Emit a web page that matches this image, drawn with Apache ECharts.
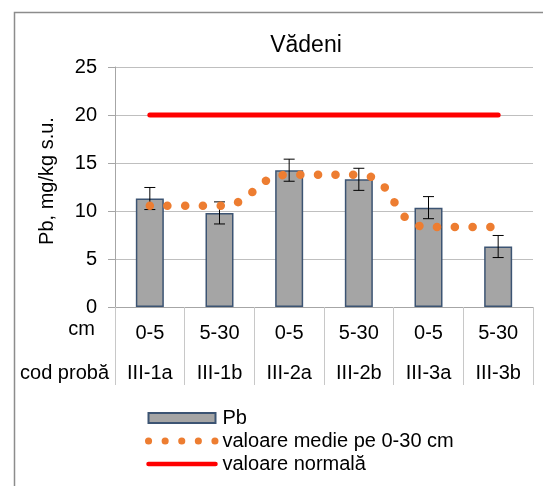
<!DOCTYPE html>
<html>
<head>
<meta charset="utf-8">
<script src="https://cdn.jsdelivr.net/npm/echarts@6/dist/echarts.min.js"></script>
<style>
  html, body { margin: 0; padding: 0; background: #fff; }
  #chart { width: 543px; height: 486px; }
</style>
</head>
<body>
<div id="chart"></div>
<script>
// Sample codes and sampling depths
const sampleCodes = ['III-1a', 'III-1b', 'III-2a', 'III-2b', 'III-3a', 'III-3b'];
const depths = ['0-5', '5-30', '0-5', '5-30', '0-5', '5-30'];

// Row headers of the category table under the x axis
const depthHeader = 'cm';
const codeHeader = 'cod probă';

// Pb content, mg/kg dry soil, with its uncertainty
const pbValues = [11.3, 9.8, 14.25, 13.3, 10.35, 6.3];
const pbError = [1.15, 1.15, 1.15, 1.15, 1.15, 1.15];

// Mean over the 0-30 cm profile for each sampling point (pairs of depths)
const meanValues = [10.55, 10.55, 13.775, 13.775, 8.325, 8.325];

// Normal value for Pb in soil
const normalValues = [20, 20, 20, 20, 20, 20];

// Y axis ticks
const yMin = 0, yMax = 25, yStep = 5;

const FONT = 'Liberation Sans, Arial, sans-serif';
const chart = echarts.init(document.getElementById('chart'), null, { renderer: 'canvas' });

const errorData = pbValues.map((v, i) => [i, v - pbError[i], v + pbError[i]]);
const headerStyle = { fontFamily: FONT, fontSize: 20, fill: '#000', align: 'right', verticalAlign: 'middle' };

chart.setOption({
  animation: false,
  backgroundColor: '#ffffff',
  textStyle: { fontFamily: FONT },
  title: {
    text: 'Vădeni',
    left: 301,
    top: 29,
    textAlign: 'center',
    textStyle: { fontFamily: FONT, fontSize: 23, fontWeight: 'normal', color: '#000' }
  },
  graphic: [
    {
      type: 'rect',
      shape: { x: 14.5, y: 12.5, width: 700, height: 700 },
      style: { fill: 'none', stroke: '#8c8c8c', lineWidth: 1.5 },
      silent: true,
      z: -10
    },
    { type: 'text', x: 95, y: 329, style: Object.assign({ text: depthHeader }, headerStyle), silent: true },
    { type: 'text', x: 109, y: 373, style: Object.assign({ text: codeHeader }, headerStyle), silent: true }
  ],
  legend: {
    orient: 'vertical',
    left: 145,
    top: 408,
    padding: 0,
    itemWidth: 67,
    itemHeight: 10,
    itemGap: 3,
    textStyle: { fontFamily: FONT, fontSize: 20, color: '#000', padding: [0, 0, 0, 2] },
    data: [
      { name: 'Pb', icon: 'rect' },
      { name: 'valoare medie pe 0-30 cm',
        itemStyle: { opacity: 0 },
        lineStyle: { width: 7, type: [0.1, 16.5], cap: 'round', color: '#ED7D31' } },
      { name: 'valoare normală',
        itemStyle: { opacity: 0 },
        lineStyle: { width: 4.5, cap: 'round', color: '#ff0000' } }
    ]
  },
  grid: { left: 115, right: 10, top: 67, bottom: 179 },
  xAxis: [
    {
      type: 'category',
      data: depths,
      position: 'bottom',
      boundaryGap: true,
      axisLine: { show: true, lineStyle: { color: '#a6a6a6', width: 1 } },
      axisTick: { show: true, length: 78, lineStyle: { color: '#c8c8c8', width: 1 } },
      axisLabel: { margin: 16, fontFamily: FONT, fontSize: 20, color: '#000' }
    },
    {
      type: 'category',
      data: sampleCodes,
      position: 'bottom',
      offset: 40,
      boundaryGap: true,
      axisLine: { show: false },
      axisTick: { show: false },
      axisLabel: { margin: 16, fontFamily: FONT, fontSize: 20, color: '#000' }
    }
  ],
  yAxis: {
    type: 'value',
    min: yMin,
    max: yMax,
    interval: yStep,
    name: 'Pb, mg/kg s.u.',
    nameLocation: 'middle',
    nameGap: 58,
    nameTextStyle: { fontFamily: FONT, fontSize: 20, color: '#000', padding: [0, 0, 0, 12] },
    axisLine: { show: true, lineStyle: { color: '#a6a6a6', width: 1 } },
    axisTick: { show: true, length: 7, lineStyle: { color: '#a6a6a6' } },
    axisLabel: { margin: 18, fontFamily: FONT, fontSize: 20, color: '#000' },
    splitLine: { show: true, lineStyle: { color: '#bfbfbf', width: 1.2 } }
  },
  series: [
    {
      name: 'Pb',
      type: 'bar',
      data: pbValues,
      barWidth: 28,
      itemStyle: { color: '#a5a5a5', borderColor: '#3c5473', borderWidth: 1.5 },
      z: 2
    },
    {
      name: 'Pb-error',
      type: 'custom',
      data: errorData,
      z: 3,
      renderItem: function (params, api) {
        const i = api.value(0);
        const lo = api.coord([i, api.value(1)]);
        const hi = api.coord([i, api.value(2)]);
        const half = 5.5;
        const style = { stroke: '#000', lineWidth: 1 };
        return {
          type: 'group',
          children: [
            { type: 'line', shape: { x1: hi[0], y1: hi[1], x2: lo[0], y2: lo[1] }, style: style },
            { type: 'line', shape: { x1: hi[0] - half, y1: hi[1], x2: hi[0] + half, y2: hi[1] }, style: style },
            { type: 'line', shape: { x1: lo[0] - half, y1: lo[1], x2: lo[0] + half, y2: lo[1] }, style: style }
          ]
        };
      }
    },
    {
      name: 'valoare medie pe 0-30 cm',
      type: 'line',
      data: meanValues,
      smooth: 0.5,
      symbol: 'none',
      lineStyle: { color: '#ED7D31', width: 8.5, type: [0.1, 17.6], cap: 'round' },
      itemStyle: { color: '#ED7D31' },
      z: 4
    },
    {
      name: 'valoare normală',
      type: 'line',
      data: normalValues,
      symbol: 'none',
      lineStyle: { color: '#ff0000', width: 5, cap: 'round' },
      itemStyle: { color: '#ff0000' },
      z: 5
    }
  ]
});
</script>
</body>
</html>
